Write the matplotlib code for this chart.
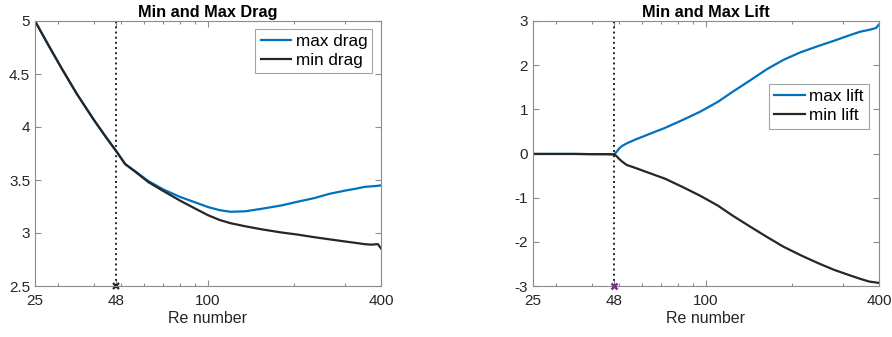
import matplotlib
matplotlib.use("Agg")
import matplotlib.pyplot as plt
from matplotlib.ticker import FixedLocator, NullFormatter

plt.rcParams['font.family'] = ['Liberation Sans', 'DejaVu Sans']

# ---- data ----
re_drag = [25, 28, 31, 35, 40, 44, 48, 51.5, 56, 62, 70, 80, 90, 100, 110, 120,
           135, 155, 180, 205, 235, 265, 300, 330, 350, 370, 390, 400]
max_drag = [5.00, 4.76, 4.55, 4.31, 4.07, 3.91, 3.77, 3.65, 3.58, 3.49, 3.41, 3.34,
            3.29, 3.245, 3.215, 3.20, 3.205, 3.23, 3.26, 3.295, 3.33, 3.37, 3.40,
            3.42, 3.435, 3.44, 3.445, 3.45]
min_drag = [5.00, 4.76, 4.55, 4.31, 4.07, 3.91, 3.77, 3.65, 3.575, 3.48, 3.395, 3.305,
            3.232, 3.168, 3.122, 3.092, 3.063, 3.033, 3.005, 2.985, 2.96, 2.94, 2.92,
            2.905, 2.895, 2.89, 2.895, 2.855]

re_lift = [25, 30, 35, 40, 45, 48, 49, 50, 51, 53, 57, 64, 72, 83, 95, 100, 110,
           124, 142, 163, 186, 213, 245, 278, 317, 345, 370, 390, 400]
max_lift = [-0.01, -0.01, -0.01, -0.015, -0.015, -0.02, 0.05, 0.12, 0.17, 0.23, 0.32,
            0.45, 0.58, 0.76, 0.94, 1.02, 1.17, 1.40, 1.65, 1.91, 2.12, 2.29, 2.43,
            2.55, 2.68, 2.76, 2.80, 2.84, 2.92]
min_lift = [-0.01, -0.01, -0.01, -0.015, -0.015, -0.02, -0.07, -0.13, -0.18, -0.26,
            -0.33, -0.45, -0.57, -0.76, -0.95, -1.03, -1.18, -1.41, -1.65, -1.89,
            -2.11, -2.30, -2.48, -2.63, -2.76, -2.84, -2.90, -2.92, -2.93]

re_crit = 48
x_ticks = [25, 48, 100, 400]
x_minor = [30, 40, 50, 60, 70, 80, 90, 200, 300]
drag_ticks = [2.5, 3, 3.5, 4, 4.5, 5]
drag_labels = ['2.5', '3', '3.5', '4', '4.5', '5']
lift_ticks = [-3, -2, -1, 0, 1, 2, 3]
lift_labels = ['-3', '-2', '-1', '0', '1', '2', '3']

BLUE = '#0072BD'
BLACK = '#262626'
PURPLE = '#7E2F8E'
TXT = '#262626'
SPINE = '#8c8c8c'

fig = plt.figure(figsize=(8.92, 3.37), dpi=100)
ax1 = fig.add_axes([35/892, 51/337, 346/892, 265/337])
ax2 = fig.add_axes([533/892, 51/337, 346/892, 265/337])


def style(ax, yticks, ylabels, ylim):
    ax.set_xscale('log')
    ax.set_xlim(25, 400)
    ax.set_ylim(*ylim)
    ax.xaxis.set_major_locator(FixedLocator(x_ticks))
    ax.set_xticklabels([str(t) for t in x_ticks])
    ax.xaxis.set_minor_locator(FixedLocator(x_minor))
    ax.xaxis.set_minor_formatter(NullFormatter())
    ax.set_yticks(yticks)
    ax.set_yticklabels(ylabels)
    ax.tick_params(which='both', direction='in', top=True, right=True,
                   colors=SPINE, labelcolor=TXT, labelsize=11, width=0.8)
    ax.tick_params(which='major', length=4)
    ax.tick_params(which='minor', length=2.5)
    ax.tick_params(axis='x', pad=6)
    for s in ax.spines.values():
        s.set_color(SPINE)
        s.set_linewidth(0.8)
    ax.set_xlabel('Re number', fontsize=11.5, color=TXT, labelpad=2)


def legend(ax, anchor):
    leg = ax.legend(loc='upper right', bbox_to_anchor=anchor, fontsize=12.3,
                    frameon=True, fancybox=False, handlelength=1.8, borderpad=0.3,
                    labelspacing=0.25, handletextpad=0.25, borderaxespad=0)
    leg.get_frame().set_edgecolor(SPINE)
    leg.get_frame().set_linewidth(0.8)
    for t in leg.get_texts():
        t.set_color('black')


# left: drag
ax1.plot(re_drag, max_drag, color=BLUE, lw=1.6, label='max drag')
ax1.plot(re_drag, min_drag, color=BLACK, lw=1.6, label='min drag')
ax1.plot([re_crit, re_crit], [2.5, 5], color=BLACK, ls=':', lw=1.4)
ax1.plot([re_crit], [2.5], marker='x', color=BLACK, ms=5, mew=1.6, clip_on=False)
style(ax1, drag_ticks, drag_labels, (2.5, 5))
ax1.set_title('Min and Max Drag', fontsize=11.7, fontweight='bold', color='black', pad=3)
legend(ax1, (0.975, 0.970))

# right: lift
ax2.plot(re_lift, max_lift, color=BLUE, lw=1.6, label='max lift')
ax2.plot(re_lift, min_lift, color=BLACK, lw=1.6, label='min lift')
ax2.plot([re_crit, re_crit], [-3, 3], color=BLACK, ls=':', lw=1.4)
ax2.plot([re_crit], [-3], marker='x', color=PURPLE, ms=5, mew=1.8, clip_on=False,
         zorder=5)
style(ax2, lift_ticks, lift_labels, (-3, 3))
ax2.set_title('Min and Max Lift', fontsize=11.7, fontweight='bold', color='black', pad=3)
legend(ax2, (0.970, 0.762))

fig.savefig('out.png', dpi=100)
